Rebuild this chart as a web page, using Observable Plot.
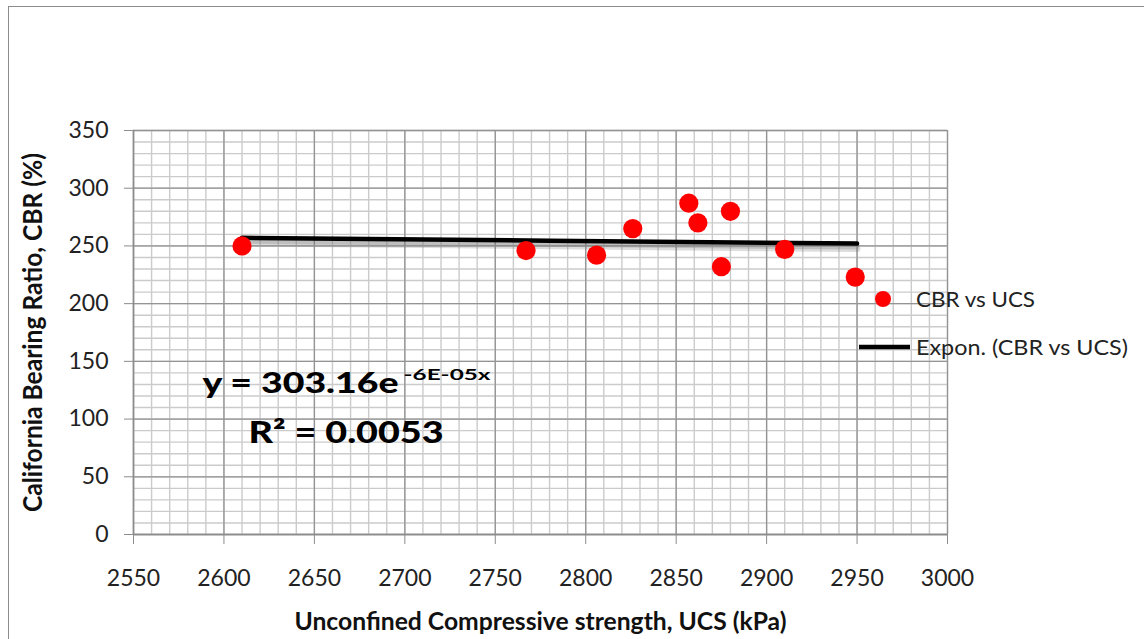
<!DOCTYPE html>
<html><head><meta charset="utf-8">
<script src="https://cdn.jsdelivr.net/npm/d3@7"></script>
<script src="https://cdn.jsdelivr.net/npm/@observablehq/plot@0.6"></script>
<style>
html,body{margin:0;padding:0;background:#fff;}
#wrap{position:relative;width:1144px;height:639px;overflow:hidden;font-family:Lato,"Open Sans",sans-serif;}
#frame{position:absolute;left:8px;top:6px;right:-10px;bottom:-10px;border-left:1.5px solid #8c8c8c;border-top:1.5px solid #8c8c8c;}
#chart{position:absolute;left:0;top:0;}
#legend{position:absolute;left:0;top:0;}
</style></head><body>
<div id="wrap"><div id="frame"></div><div id="chart"></div><svg id="legend" width="1144" height="639"></svg></div>
<script>
// ---- data ----
const ucs = [2610, 2767, 2806, 2826, 2857, 2862, 2880, 2875, 2910, 2949];
const cbr = [250, 246, 242, 265, 287, 270, 280, 232, 247, 223];
const trendX = [2610, 2780, 2950];
const trendY = [257, 254.5, 252];
const xTicks = [2550, 2600, 2650, 2700, 2750, 2800, 2850, 2900, 2950, 3000];
const yTicks = [0, 50, 100, 150, 200, 250, 300, 350];
const xMinor = d3.range(2550, 3001, 10);
const yMinor = d3.range(0, 351, 10);
const seriesName = "CBR vs UCS";
const trendName = "Expon. (CBR vs UCS)";
const eqMain = "y = 303.16e";
const eqExp = "-6E-05x";
const r2Text = "R\u00B2 = 0.0053";
const xLabel = "Unconfined Compressive strength, UCS (kPa)";
const yLabel = "California Bearing Ratio, CBR (%)";

const points = ucs.map((x, i) => ({x, y: cbr[i]}));
const trend = trendX.map((x, i) => ({x, y: trendY[i]}));
const FONT = "Lato, 'Open Sans', sans-serif";

const plot = Plot.plot({
  width: 1144, height: 639,
  marginLeft: 133, marginRight: 197, marginTop: 130, marginBottom: 105,
  style: {fontFamily: FONT, background: "transparent", overflow: "visible"},
  x: {domain: [2550, 3000]},
  y: {domain: [0, 350]},
  marks: [
    Plot.ruleX(xMinor, {stroke: "#cbcbcb", strokeWidth: 1.4}),
    Plot.ruleY(yMinor, {stroke: "#cbcbcb", strokeWidth: 1.4}),
    Plot.ruleX(xTicks, {stroke: "#949494", strokeWidth: 1.3}),
    Plot.ruleY(yTicks, {stroke: "#949494", strokeWidth: 1.3}),
    Plot.axisX({ticks: xTicks, tickSize: 10, tickPadding: 25, tickFormat: d3.format("d"),
      stroke: "#8c8c8c", fill: "#222", fontSize: 23, label: null}),
    Plot.axisY({ticks: yTicks, tickSize: 9, tickPadding: 16, tickFormat: d3.format("d"),
      stroke: "#8c8c8c", fill: "#222", fontSize: 23, label: null}),
    Plot.ruleX([2550], {stroke: "#8c8c8c", strokeWidth: 1.5}),
    Plot.ruleY([0], {stroke: "#8c8c8c", strokeWidth: 1.5}),
    Plot.line(trend, {x: "x", y: "y", stroke: "#777", strokeOpacity: 0.25, strokeWidth: 7, dy: 5}),
    Plot.line(trend, {x: "x", y: "y", stroke: "#777", strokeOpacity: 0.3, strokeWidth: 4, dy: 4}),
    Plot.line(trend, {x: "x", y: "y", stroke: "#000", strokeWidth: 4.5}),
    Plot.dot(points, {x: "x", y: "y", r: 9.6, fill: "#ff0000"}),
    Plot.text([eqMain], {text: d => d, frameAnchor: "top-left", dx: 69, dy: 262, lineAnchor: "bottom",
      textAnchor: "start", fontSize: 28, fontWeight: 900, fill: "#000"}),
    Plot.text([eqExp], {text: d => d, frameAnchor: "top-left", dx: 270, dy: 249, lineAnchor: "bottom",
      textAnchor: "start", fontSize: 15, fontWeight: "bold", fill: "#000"}),
    Plot.text([r2Text], {text: d => d, frameAnchor: "top-left", dx: 115, dy: 312, lineAnchor: "bottom",
      textAnchor: "start", fontSize: 30, fontWeight: 900, fill: "#000"}),
    Plot.text([xLabel], {text: d => d, frameAnchor: "bottom", dx: 0, dy: 95, lineAnchor: "bottom",
      textAnchor: "middle", fontSize: 24, fontWeight: "bold", fill: "#111"}),
    Plot.text([yLabel], {text: d => d, frameAnchor: "left", dx: -100, dy: 0, rotate: -90, lineAnchor: "middle",
      textAnchor: "middle", fontSize: 26, fontWeight: "bold", fill: "#111"})
  ]
});
document.getElementById("chart").appendChild(plot);

const lengths = {};
lengths[eqMain] = 196; lengths[eqExp] = 87; lengths[r2Text] = 195;
lengths[xLabel] = 492; lengths[yLabel] = 359;
d3.select(plot).selectAll("text").each(function() {
  const L = lengths[this.textContent];
  if (L) d3.select(this).attr("textLength", L).attr("lengthAdjust", "spacingAndGlyphs");
});

// legend (overlay)
const lg = d3.select("#legend");
lg.append("circle").attr("cx", 883).attr("cy", 299).attr("r", 8).attr("fill", "#ff0000");
lg.append("text").attr("x", 916).attr("y", 307).attr("font-family", FONT).attr("font-size", 21)
  .attr("fill", "#222").attr("textLength", 119).attr("lengthAdjust", "spacingAndGlyphs").text(seriesName);
lg.append("line").attr("x1", 859).attr("x2", 910).attr("y1", 347).attr("y2", 347)
  .attr("stroke", "#000").attr("stroke-width", 4.5);
lg.append("text").attr("x", 916).attr("y", 355).attr("font-family", FONT).attr("font-size", 21)
  .attr("fill", "#222").attr("textLength", 212).attr("lengthAdjust", "spacingAndGlyphs").text(trendName);
</script>
</body></html>
